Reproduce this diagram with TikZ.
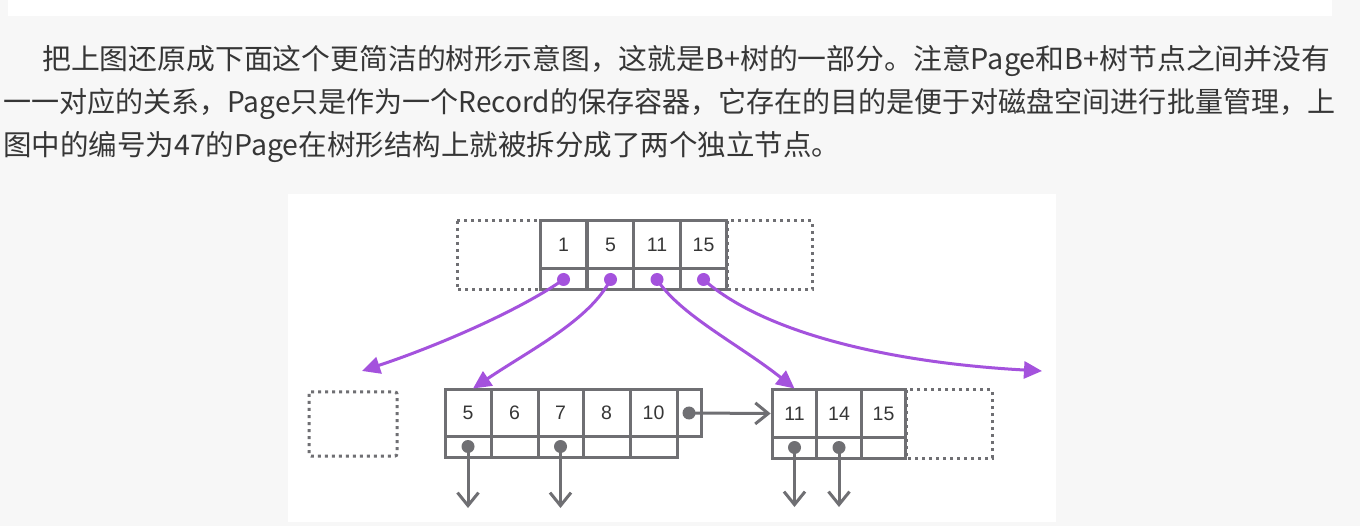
\documentclass[tikz,border=0pt]{standalone}
\usepackage{fontspec}
\usepackage{graphicx}
\setmainfont{Liberation Sans}
\newfontfamily\cjk{Noto Sans CJK SC}
\usetikzlibrary{arrows.meta}
\definecolor{bgc}{HTML}{F7F7F7}
\definecolor{txt}{HTML}{363636}
\definecolor{boxg}{HTML}{6F6F73}
\definecolor{purp}{HTML}{A452DD}
\tikzset{
  cell/.style={draw=boxg, line width=3pt, fill=white, inner sep=0pt, font=\fontsize{19.5}{20}\selectfont, text=txt},
  dotbox/.style={draw=boxg, line width=3pt, dash pattern=on 3pt off 4pt},
  pdot/.style={circle, fill=purp, inner sep=0pt, minimum size=13pt},
  gdot/.style={circle, fill=boxg, inner sep=0pt, minimum size=13pt},
  parrow/.style={draw=purp, line width=3pt, -{Triangle[length=18pt,width=17pt]}},
  garrow/.style={draw=boxg, line width=3pt, -{Straight Barb[length=13pt,width=21pt]}},
  para/.style={anchor=base west, inner sep=0pt, text=txt, font=\cjk\fontsize{28.5}{43}\selectfont}
}
\begin{document}
\begin{tikzpicture}[x=1pt,y=-1pt]
\fill[bgc] (0,0) rectangle (1360,526);
\useasboundingbox (0,0) rectangle (1360,526);
\fill[white] (8,0) rectangle (1332,16);
\fill[white] (288,194) rectangle (1056,522);
% paragraph
\node[para] (p1) at (42,70) {\resizebox{1288pt}{\height}{把上图还原成下面这个更简洁的树形示意图，这就是B+树的一部分。注意Page和B+树节点之间并没有}};
\node[para] (p2) at (3,113) {\resizebox{1332pt}{\height}{一一对应的关系，Page只是作为一个Record的保存容器，它存在的目的是便于对磁盘空间进行批量管理，上}};
\node[para] (p3) at (3,156) {图中的编号为47的Page在树形结构上就被拆分成了两个独立节点。};
% dotted boxes
\draw[dotbox] (457,221) rectangle (540,290);
\draw[dotbox] (727,221) rectangle (812,290);
\draw[dotbox, rounded corners=2pt] (309,392) rectangle (397,456);
\draw[dotbox] (906,390) rectangle (992,458);
% top node
\foreach \n/\x/\t in {1/563.5/1, 2/610.5/5, 3/657/11, 4/703.5/15}{
  \node[cell, minimum width=46.75pt, minimum height=48pt] (t\n) at (\x,245) {\t};
  \node[cell, minimum width=46.75pt, minimum height=21pt] (tp\n) at (\x,279.5) {};
}
% left leaf
\foreach \n/\x/\w/\t in {1/468/46/5, 2/514.5/47/6, 3/560.5/45/7, 4/606.5/47/8, 5/653.5/47/10}{
  \node[cell, minimum width=\w pt, minimum height=46pt] (l\n) at (\x,413) {\t};
  \node[cell, minimum width=\w pt, minimum height=21pt] (lp\n) at (\x,446.5) {};
}
\node[cell, minimum width=24pt, minimum height=46pt] (lnext) at (689,413) {};
% right leaf
\foreach \n/\x/\t in {1/794.5/11, 2/839/14, 3/883.5/15}{
  \node[cell, minimum width=44.7pt, minimum height=47pt] (r\n) at (\x,413.5) {\t};
  \node[cell, minimum width=44.7pt, minimum height=21pt] (rp\n) at (\x,447.5) {};
}
% purple pointers
\foreach \n in {1,2,3,4}{ \node[pdot] (pd\n) at (tp\n.center) {}; }
\coordinate (e1) at (362,371);
\coordinate (e4) at (1042,371);
\draw[parrow] (pd1.center) .. controls (520,310) and (440,345) .. (e1);
\draw[parrow] (pd2.center) .. controls (590,320) and (530,350) .. ([xshift=5pt]l1.north);
\draw[parrow] (pd3.center) .. controls (680,315) and (740,345) .. (r1.north);
\draw[parrow] (pd4.center) .. controls (760,330) and (880,362) .. (e4);
% gray pointers
\node[gdot] (gl1) at (lp1.center) {};
\node[gdot] (gl3) at (lp3.center) {};
\node[gdot] (gr1) at (rp1.center) {};
\node[gdot] (gr2) at (rp2.center) {};
\node[gdot] (gnext) at (lnext.center) {};
\coordinate (dl1) at (468,508);
\coordinate (dl3) at (560.5,508);
\coordinate (dr1) at (794.5,507);
\coordinate (dr2) at (839,507);
\draw[garrow] (gl1.center) -- (dl1);
\draw[garrow] (gl3.center) -- (dl3);
\draw[garrow] (gr1.center) -- (dr1);
\draw[garrow] (gr2.center) -- (dr2);
\draw[garrow] (gnext.center) -- (r1.west);
\end{tikzpicture}
\end{document}
